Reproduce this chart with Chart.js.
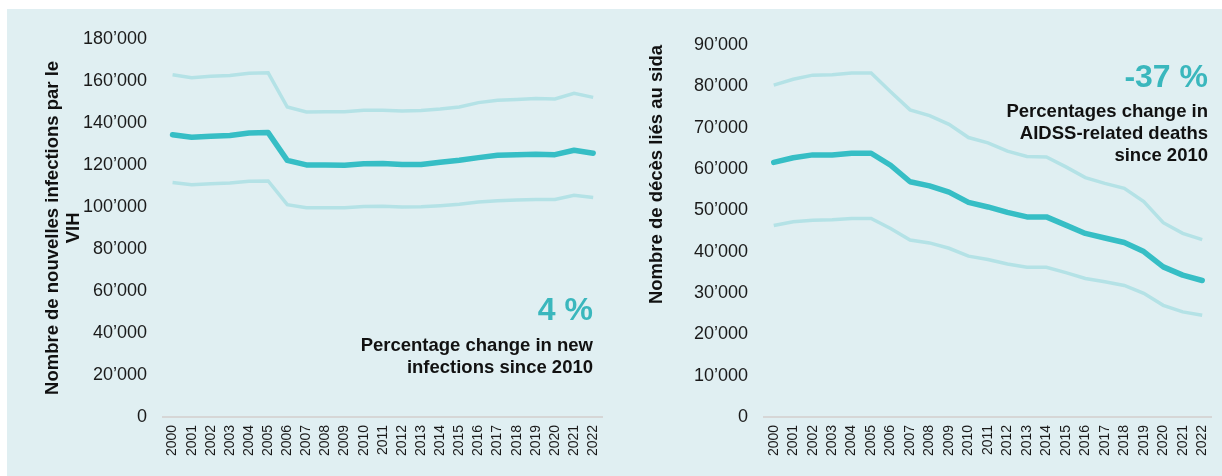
<!DOCTYPE html>
<html>
<head>
<meta charset="utf-8">
<script src="https://cdn.jsdelivr.net/npm/chart.js@4.4.1/dist/chart.umd.min.js"></script>
<style>
  html, body { margin: 0; padding: 0; background: #ffffff; overflow: hidden; }
  #panel {
    position: absolute; left: 7px; top: 9px; width: 1215px; height: 467px;
    background: #e0eff2; overflow: hidden;
  }
  .box { position: absolute; top: 0; height: 467px; }
  #box1 { left: 0; width: 611px; }
  #box2 { left: 606px; width: 614px; }
</style>
</head>
<body>
<div id="panel">
  <div class="box" id="box1"><canvas id="infectionsChart"></canvas></div>
  <div class="box" id="box2"><canvas id="deathsChart"></canvas></div>
</div>
<script>
// Years on the x axis (shared by both charts)
const years = ['2000','2001','2002','2003','2004','2005','2006','2007','2008','2009','2010',
  '2011','2012','2013','2014','2015','2016','2017','2018','2019','2020','2021','2022'];

// New HIV infections: estimate + lower/upper bounds
const infections = [134400,133200,133700,134000,135200,135400,122200,120000,120000,119900,120600,
  120700,120200,120200,121300,122200,123500,124600,124900,125100,124900,127000,125600];
const infectionsHigh = [163000,161600,162200,162600,163700,163900,147600,145200,145400,145400,146000,
  146100,145700,145900,146600,147600,149700,150800,151200,151600,151400,154100,152200];
const infectionsLow = [111600,110600,111100,111400,112200,112400,101100,99600,99600,99600,100200,
  100300,100000,100100,100600,101300,102400,103000,103300,103600,103600,105600,104500];

// AIDS-related deaths: estimate + lower/upper bounds
const deaths = [61600,62700,63400,63400,63800,63800,60900,56900,55900,54400,51900,
  50800,49500,48400,48400,46400,44400,43300,42200,40000,36300,34300,33000];
const deathsHigh = [80300,81700,82700,82800,83200,83200,78700,74300,72900,70800,67600,
  66300,64300,63000,62900,60500,57900,56500,55300,52100,47000,44400,42900];
const deathsLow = [46300,47200,47600,47700,48000,48000,45600,42800,42100,40800,38900,
  38100,37000,36200,36200,34900,33500,32700,31800,29900,27000,25400,24600];

const mainColor = '#36bec5';
const boundColor = '#b4e2e6';
const fontFamily = '"Liberation Sans", Arial, sans-serif';

// thousands separator used in the original: 180’000
function fmtThousands(v) {
  return String(v).replace(/\B(?=(\d{3})+(?!\d))/g, '\u2019');
}

// draws the big percentage + caption in the chart's right corner
const calloutPlugin = {
  id: 'callout',
  afterDraw(chart, args, opts) {
    const ctx = chart.ctx;
    ctx.save();
    ctx.textAlign = 'right';
    ctx.textBaseline = 'alphabetic';
    ctx.fillStyle = '#3ab7bd';
    ctx.font = 'bold 32px ' + fontFamily;
    ctx.fillText(opts.big, opts.x, opts.y);
    ctx.fillStyle = '#111111';
    ctx.font = 'bold 18.5px ' + fontFamily;
    opts.lines.forEach((line, i) => {
      ctx.fillText(line, opts.x, opts.y + opts.gap + i * opts.lineHeight);
    });
    ctx.restore();
  }
};

function makeChart(canvasId, mid, high, low, max, step, title, titleAlign, callout, pad, yWidth) {
  const ctx = document.getElementById(canvasId).getContext('2d');
  return new Chart(ctx, {
    type: 'line',
    data: {
      labels: years,
      datasets: [
        { data: high, borderColor: boundColor, borderWidth: 3.5, pointRadius: 0, tension: 0 },
        { data: low, borderColor: boundColor, borderWidth: 3.5, pointRadius: 0, tension: 0 },
        { data: mid, borderColor: mainColor, borderWidth: 5.5, pointRadius: 0, tension: 0,
          borderCapStyle: 'round', borderJoinStyle: 'round' }
      ]
    },
    options: {
      responsive: true,
      maintainAspectRatio: false,
      animation: false,
      layout: { padding: pad },
      plugins: {
        legend: { display: false },
        tooltip: { enabled: false },
        callout: callout
      },
      scales: {
        x: {
          offset: true,
          grid: { display: false, drawTicks: false },
          border: { display: true, color: '#d6d6d6', width: 2 },
          ticks: {
            color: '#1a1a1a', padding: 8, maxRotation: 90, minRotation: 90, autoSkip: false,
            font: { family: fontFamily, size: 14 }
          }
        },
        y: {
          min: 0, max: max,
          afterFit: (scale) => { scale.width = yWidth; },
          grid: { display: false, drawTicks: false },
          border: { display: false },
          ticks: {
            stepSize: step, color: '#1a1a1a', padding: 16,
            font: { family: fontFamily, size: 18 },
            callback: (v) => fmtThousands(v)
          },
          title: {
            display: true, text: title, align: titleAlign, color: '#111111', padding: 0,
            font: { family: fontFamily, size: 18.5, weight: 'bold', lineHeight: 1.15 }
          }
        }
      }
    },
    plugins: [calloutPlugin]
  });
}

makeChart('infectionsChart', infections, infectionsHigh, infectionsLow, 180000, 20000,
  ['Nombre de nouvelles infections par le', 'VIH'], 'center',
  { big: '4 %', x: 586, y: 311, gap: 31, lineHeight: 22,
    lines: ['Percentage change in new', 'infections since 2010'] },
  { left: 35, right: 1, top: 30, bottom: 12 }, 121);

makeChart('deathsChart', deaths, deathsHigh, deathsLow, 90000, 10000,
  ['Nombre de décès liés au sida'], 'end',
  { big: '-37 %', x: 595, y: 78, gap: 30, lineHeight: 22,
    lines: ['Percentages change in', 'AIDSS-related deaths', 'since 2010'] },
  { left: 33, right: 0, top: 36, bottom: 12 }, 118);
</script>
</body>
</html>
